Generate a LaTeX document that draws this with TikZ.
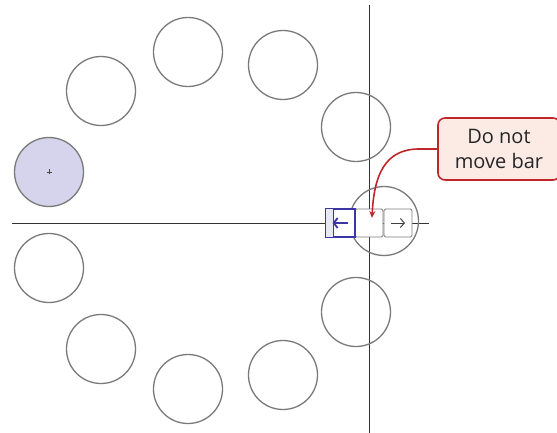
\documentclass[tikz,border=0pt]{standalone}
\usepackage{fontspec}
\setmainfont{Open Sans}
\usetikzlibrary{arrows.meta}
\definecolor{ringgray}{HTML}{7A7A7A}
\definecolor{axisgray}{HTML}{333333}
\definecolor{selfill}{HTML}{D6D4EC}
\definecolor{barblue}{HTML}{3B36A3}
\definecolor{calloutred}{HTML}{C0272D}
\definecolor{calloutfill}{HTML}{FCEBE5}
\tikzset{
  ring/.style={circle, draw=ringgray, line width=1.3pt, minimum size=69pt, inner sep=0pt},
  barbox/.style={draw=ringgray, line width=0.9pt, rounded corners=1.5pt, minimum width=28pt, minimum height=28pt, inner sep=0pt, fill=white},
  axis/.style={draw=axisgray, line width=0.8pt},
}
\begin{document}
\begin{tikzpicture}[x=1pt,y=-1pt]
\useasboundingbox (0,0) rectangle (557,433);
% axes
\coordinate (hl) at (12,223);
\coordinate (hr) at (429,223);
\coordinate (vt) at (369,5);
\coordinate (vb) at (369,433);
\draw[axis] (hl) -- (hr);
\draw[axis] (vt) -- (vb);
% ring of circles
\node[ring] (c1) at (188,52) {};
\node[ring] (c2) at (283,65) {};
\node[ring] (c3) at (356,127) {};
\node[ring] (c4) at (101,91) {};
\node[ring, fill=selfill] (c5) at (49,172) {};
\node[ring] (c6) at (49,268) {};
\node[ring] (c7) at (101,349) {};
\node[ring] (c8) at (188,389) {};
\node[ring] (c9) at (283,375) {};
\node[ring] (c10) at (356,312) {};
\node[ring] (cb) at (384,221) {};
\draw[ringgray!60!black, line width=0.8pt] ([xshift=-2.5pt]c5.center) -- ([xshift=2.5pt]c5.center)
  ([yshift=-2.5pt]c5.center) -- ([yshift=2.5pt]c5.center);
% bar
\node[barbox] (bmid) at (369,223) {};
\node[barbox] (bright) at (398,223) {};
\draw[black!75, line width=0.9pt, -{Straight Barb[length=4pt,width=9pt]}] ([xshift=-7pt]bright.center) -- ([xshift=7pt]bright.center);
\node[draw=barblue, line width=1.1pt, minimum width=29pt, minimum height=28pt, inner sep=0pt, fill=white] (bleft) at (340.5,223) {};
\fill[barblue!12] ([xshift=0.55pt,yshift=0.55pt]bleft.north west) rectangle ([xshift=8pt,yshift=-0.55pt]bleft.south west);
\draw[barblue, line width=1.1pt] ([xshift=8pt]bleft.north west) -- ([xshift=8pt]bleft.south west);
\draw[barblue, line width=1.1pt] (bleft.north west) rectangle (bleft.south east);
\draw[barblue, line width=1.8pt, -{Straight Barb[length=4pt,width=10pt]}] ([xshift=7pt]bleft.center) -- ([xshift=-8pt]bleft.center);
% callout
\node[draw=calloutred, fill=calloutfill, line width=1.6pt, rounded corners=7pt, minimum width=122pt, minimum height=62pt, align=center, font=\fontsize{20}{25}\selectfont, text=black!85] (call) at (499,149) {Do not\\move bar};
\coordinate (tgt) at (372,218);
\draw[calloutred, line width=1.6pt, -{Stealth[length=7pt,width=6pt]}] (call.west) -- (419,149) .. controls (385,149) and (374,175) .. (tgt);
\end{tikzpicture}
\end{document}
